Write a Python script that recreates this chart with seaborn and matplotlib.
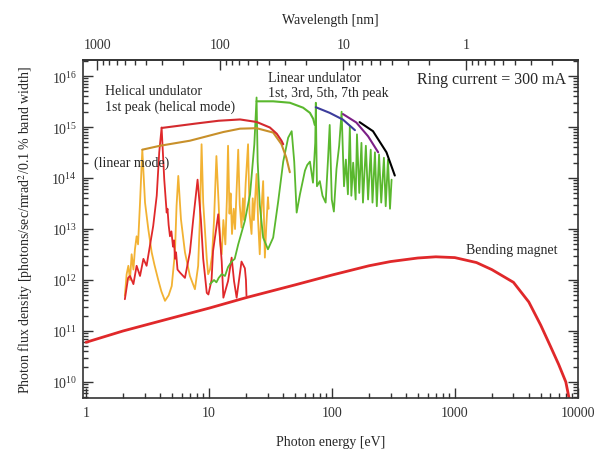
import numpy as np
import pandas as pd
import seaborn as sns
import matplotlib
matplotlib.use('Agg')
import matplotlib.pyplot as plt
from matplotlib.ticker import FixedLocator, LogLocator, FormatStrFormatter, NullFormatter

# ---- data (photon energy [eV], flux density) ----
bend_e = [1, 2, 5, 10, 20, 50, 100, 200, 300, 500, 700, 1000, 1500, 2000,
          3000, 4000, 5000, 6000, 7000, 8000, 8500]
bend_f = [6e10, 1.0e11, 1.8e11, 2.8e11, 4.5e11, 8e11, 1.25e12, 1.9e12, 2.3e12,
          2.7e12, 2.85e12, 2.75e12, 2.2e12, 1.6e12, 9e11, 3.7e11, 1.3e11,
          5e10, 2.2e10, 1e10, 4.8e9]

helical_e = [2.07, 2.2, 2.28, 2.43, 2.58, 2.75, 2.93, 3.11, 3.31, 3.52, 3.76,
             3.94, 4.12, 4.33, 4.53, 4.6, 4.7, 4.82, 4.95, 5.1, 5.2, 5.29,
             5.4, 5.55, 5.81, 6.38, 7.0, 7.45, 8.08, 8.6, 8.98, 9.6, 9.9,
             10.5, 10.8, 11.9, 12.7, 13.1, 14.3, 15.3, 16.0, 16.8, 18.4,
             19.6, 20.0, 20.2]
helical_f = [4.2e11, 1.1e12, 1.2e12, 8.3e11, 1.9e12, 1.2e12, 2.6e12, 1.9e12,
             4.7e12, 1.15e13, 4.5e13, 3.2e14, 9.8e14, 9.3e13, 2.1e13, 2.5e13,
             1.2e13, 7.2e12, 9e12, 4.5e12, 6e12, 2.6e12, 3.5e12, 1.6e12,
             1.4e12, 1.1e12, 3.5e12, 1.55e13, 9.3e13, 1.55e13, 2.6e12,
             5.6e11, 5.2e11, 1.0e12, 3.7e12, 1.95e13, 2.3e12, 4.5e11, 9.5e11,
             2.75e12, 9.5e11, 4.5e11, 2.3e12, 1.7e12, 1.0e12, 4.9e11]

linear_mode_e = [2.07, 2.14, 2.21, 2.28, 2.35, 2.43, 2.5, 2.58, 2.65, 2.75,
                 2.87, 3.02, 3.21, 3.42, 3.6, 3.87, 4.1, 4.39, 4.7, 4.98,
                 5.29, 5.45, 5.63, 5.92, 6.38, 7.0, 7.69, 8.17, 8.44, 8.71,
                 8.98, 9.6, 9.85, 10.2, 10.6, 11.0, 11.5, 12.0, 12.3, 12.7,
                 13.1, 13.6, 14.0, 14.3, 14.7, 15.0, 15.4, 15.9, 16.3, 16.8,
                 17.3, 17.8, 18.4, 18.9, 19.3, 19.9, 20.8, 21.4, 22.2, 22.7,
                 23.2, 24.4, 25.1, 25.9, 26.6, 27.6, 28.5, 29.3, 30.2, 30.6]
linear_mode_f = [4.9e11, 1.3e12, 1.9e12, 1.0e12, 3.2e12, 1.6e12, 4e12, 7.2e12,
                 5e12, 3.3e13, 3.6e14, 3.3e13, 1.0e13, 3.5e12, 2.0e12, 1.0e12,
                 6e11, 3.9e11, 5e11, 7.6e11, 3.5e12, 2.8e13, 1.1e14, 1.55e13,
                 3.5e12, 1.2e12, 6.6e11, 1.9e12, 1.55e13, 4.6e14, 3.3e13,
                 2.6e12, 1.3e12, 1.6e12, 3e12, 1.5e13, 2.7e14, 3e13, 6e12,
                 3.2e12, 1.5e13, 5e12, 4e13, 4.3e14, 2e13, 5e13, 8e12, 2.5e13,
                 1e13, 6e13, 3.6e14, 3e13, 1.07e13, 4e13, 1.5e13, 8e13, 4.6e14,
                 2e13, 8e12, 4e13, 1.5e13, 1.2e14, 1.5e13, 3.2e12, 2e13, 8.7e13,
                 2.75e12, 1.2e13, 4.2e13, 2.5e13]

helical_env_e = [4.12, 5.5, 8, 12, 17.9, 24.4, 31.3, 35.6, 38.9, 40.2]
helical_env_f = [9.6e14, 1.05e15, 1.18e15, 1.33e15, 1.41e15, 1.26e15, 9.8e14,
                 7.4e14, 5.4e14, 4.6e14]

linear_env_e = [2.87, 4, 7.0, 13.1, 17.9, 24.4, 33.3, 38.9, 42.6, 45.5]
linear_env_f = [3.6e14, 4.3e14, 5.4e14, 8.0e14, 9.3e14, 9.5e14, 7.8e14,
                4.6e14, 2.5e14, 1.3e14]

lin_und_e = [10.2, 11.0, 11.5, 12.0, 12.7, 13.5, 14.3, 15.3, 16.2, 17.3, 19.6,
             21.6, 23.4, 24.4, 24.9, 25.9, 27.6, 30.2, 33.3, 36.6, 40.2, 44.1,
             47.1, 49.4, 51.7, 55, 60.4, 63, 66.3, 70.2, 73.2, 74, 75.6, 79.8,
             83.9, 89, 93, 96, 99.8, 103.8, 109, 114.6, 120, 125.5, 130, 135,
             140, 144, 149, 156, 160, 167, 174, 179, 189, 197, 207, 214, 224,
             232, 242, 252, 265, 274, 286, 297, 306]
lin_und_f = [8.3e11, 1.0e12, 9e11, 1.1e12, 1.3e12, 1.2e12, 1.8e12, 2.3e12,
             2.6e12, 5e12, 1.45e13, 4.8e13, 4.6e14, 3.8e15, 2.1e14, 3.0e13,
             6.8e12, 4e12, 6.8e12, 3.5e13, 2.1e14, 6.2e14, 8.3e14, 2.1e14,
             2.1e13, 4.8e13, 1.4e14, 1.8e14, 2.1e14, 8.1e13, 4.9e14, 3e15,
             6.9e13, 8.7e13, 4.5e13, 3.3e13, 2.3e14, 1.1e15, 3.8e13, 2.2e13,
             1.5e14, 4.3e14, 2.0e15, 6.9e13, 2.3e14, 4.8e13, 1.05e15, 4.5e13,
             2.0e14, 3.8e13, 7.2e14, 5.1e13, 4.9e14, 3.3e13, 4.3e14, 3.8e13,
             3.6e14, 3.3e13, 3.2e14, 2.8e13, 2.9e14, 3.3e13, 2.5e14, 2.8e13,
             2.3e14, 2.5e13, 9.3e13]

peak1_e = [24.4, 33.3, 45.5, 58.3, 66.3, 70.5, 72.6]
peak1_f = [3.2e15, 3.2e15, 3.0e15, 2.4e15, 1.9e15, 1.45e15, 1.1e15]
peak3_e = [74, 96, 123, 154]
peak3_f = [2.45e15, 1.9e15, 1.4e15, 8.7e14]
peak5_e = [123, 158, 197, 238]
peak5_f = [1.8e15, 1.23e15, 6.6e14, 3.2e14]
peak7_e = [168, 216, 278, 325]
peak7_f = [1.25e15, 8.3e14, 3.2e14, 1.12e14]

RED = '#e0282a'
ORANGE = '#f2b233'
BROWN = '#c8902a'
GREEN = '#5ab82e'

sns.set_theme(style='ticks')
plt.rcParams['font.family'] = ['Liberation Serif', 'DejaVu Serif']
plt.rcParams['mathtext.fontset'] = 'stix'
plt.rcParams['axes.edgecolor'] = '#333333'
plt.rcParams['xtick.color'] = '#333333'
plt.rcParams['ytick.color'] = '#333333'

FS = 10

fig = plt.figure(figsize=(6.02, 4.52), dpi=100)
ax = fig.add_axes([0.1374, 0.1173, 0.8223, 0.7485])


def draw(e, f, color, lw=1.3):
    df = pd.DataFrame({'E': e, 'F': f})
    sns.lineplot(data=df, x='E', y='F', ax=ax, color=color, lw=lw,
                 estimator=None, sort=False)


draw(bend_e, bend_f, RED, lw=2.0)
draw(linear_mode_e, linear_mode_f, ORANGE)
draw(helical_e, helical_f, RED)
draw(lin_und_e, lin_und_f, GREEN)
draw(linear_env_e, linear_env_f, BROWN, lw=1.5)
draw(helical_env_e, helical_env_f, '#d42a2e', lw=1.5)
draw(peak1_e, peak1_f, GREEN, lw=1.5)
draw(peak3_e, peak3_f, '#3c3c9c', lw=1.5)
draw(peak5_e, peak5_f, '#7b1f86', lw=1.5)
draw(peak7_e, peak7_f, 'black', lw=1.5)

ax.set_xscale('log')
ax.set_yscale('log')
ax.set_xlim(0.94, 10000)
ax.set_ylim(4.85e9, 2.1e16)

ax.xaxis.set_major_locator(FixedLocator([1, 10, 100, 1000, 10000]))
ax.xaxis.set_major_formatter(FormatStrFormatter('%g'))
ax.xaxis.set_minor_locator(LogLocator(subs=np.arange(2, 10)))
ax.xaxis.set_minor_formatter(NullFormatter())
ax.yaxis.set_major_locator(LogLocator(base=10, numticks=20))
ax.yaxis.set_minor_locator(LogLocator(subs=np.arange(2, 10), numticks=20))
ax.yaxis.set_minor_formatter(NullFormatter())
ax.xaxis.get_offset_text().set_visible(False)
ax.yaxis.get_offset_text().set_visible(False)

ax.tick_params(which='both', direction='in', top=False, right=True,
               labelsize=FS, width=1.0)
ax.tick_params(which='major', length=7)
ax.tick_params(which='minor', length=3.6)
ax.tick_params(axis='x', pad=6)
ax.tick_params(axis='y', pad=4)
for s in ax.spines.values():
    s.set_linewidth(1.2)

ax.set_xlabel('Photon energy [eV]', fontsize=FS, labelpad=11)
ax.set_ylabel('Photon flux density [photons/sec/mrad$^2$/0.1 % band width]',
              fontsize=FS, labelpad=12)


def e2w(x):
    x = np.asarray(x, dtype=float)
    with np.errstate(divide='ignore'):
        return 1239.84 / x


secax = ax.secondary_xaxis('top', functions=(e2w, e2w))
secax.xaxis.set_major_locator(FixedLocator([1, 10, 100, 1000]))
secax.xaxis.set_major_formatter(FormatStrFormatter('%g'))
secax.xaxis.set_minor_locator(LogLocator(subs=np.arange(2, 10)))
secax.xaxis.set_minor_formatter(NullFormatter())
secax.xaxis.get_offset_text().set_visible(False)
secax.yaxis.set_visible(False)
secax.tick_params(which='both', direction='in', labelsize=FS, width=1.0, pad=6)
secax.tick_params(which='major', length=7)
secax.tick_params(which='minor', length=3.6)
secax.spines['top'].set_linewidth(1.2)
secax.set_xlabel('Wavelength [nm]', fontsize=FS, labelpad=11)

ax.text(0.045, 0.885, 'Helical undulator\n1st peak (helical mode)',
        transform=ax.transAxes, fontsize=FS, va='center', ha='left',
        linespacing=1.2)
ax.text(0.022, 0.698, '(linear mode)', transform=ax.transAxes, fontsize=FS,
        va='center', ha='left')
ax.text(0.375, 0.926, 'Linear undulator\n1st, 3rd, 5th, 7th peak',
        transform=ax.transAxes, fontsize=FS, va='center', ha='left',
        linespacing=1.2)
ax.text(0.675, 0.943, 'Ring current = 300 mA', transform=ax.transAxes,
        fontsize=11.5, va='center', ha='left')
ax.text(0.775, 0.44, 'Bending magnet', transform=ax.transAxes, fontsize=FS,
        va='center', ha='left')

fig.savefig('out.png', dpi=100)
